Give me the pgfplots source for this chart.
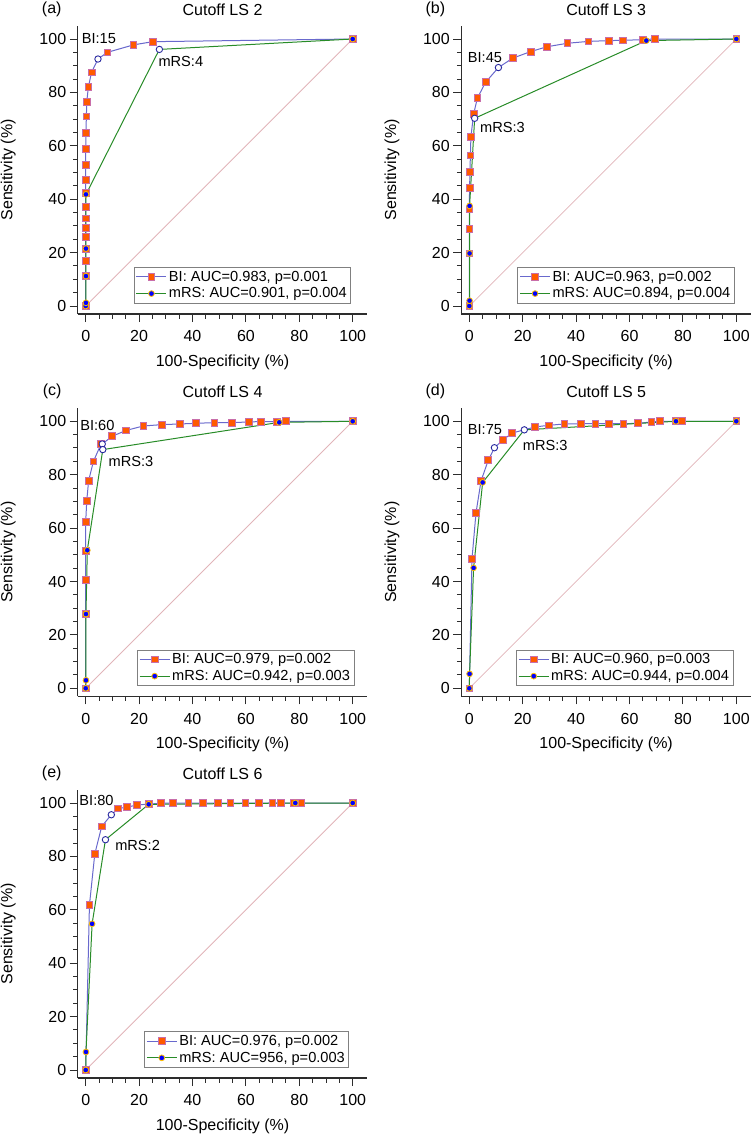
\documentclass[border=0pt]{standalone}
\usepackage{fontspec}
\setmainfont{Liberation Sans}
\usepackage{pgfplots}
\pgfplotsset{compat=1.18}
\definecolor{biorange}{RGB}{255,90,0}
\definecolor{biborder}{RGB}{200,110,170}
\definecolor{biline}{RGB}{105,105,205}
\definecolor{mrsblue}{RGB}{0,0,255}
\definecolor{mrsborder}{RGB}{255,190,0}
\definecolor{mrsline}{RGB}{40,140,40}
\definecolor{diagc}{RGB}{225,180,185}
\definecolor{cutborder}{RGB}{40,40,160}
\definecolor{axisgray}{RGB}{45,45,45}
\newcommand{\tickfont}{\fontsize{16}{16}\selectfont}
\newcommand{\labfont}{\fontsize{16}{18}\selectfont}
\newcommand{\legfont}{\fontsize{14.6}{16}\selectfont}
\pgfplotsset{
  bistyle/.style={color=biline, line width=1pt, mark=square*, mark size=3.4pt,
    mark options={fill=biorange, draw=biborder, line width=0.8pt, solid}},
  mrsstyle/.style={color=mrsline, line width=1pt, mark=*, mark size=2.9pt,
    mark options={fill=mrsblue, draw=mrsborder, line width=0.8pt, solid}},
  rocaxis/.style={
    anchor=south west,
    x=2.67pt, y=2.67pt, xmin=-3, xmax=105.5, ymin=-3, ymax=105,
    axis lines=left, axis line style={-, line width=1.3pt, color=axisgray},
    xtick={0,20,...,100}, ytick={0,20,...,100},
    xticklabels={0,20,40,60,80,100}, yticklabels={0,20,40,60,80,100},
    minor x tick num=3, minor y tick num=3,
    tick align=outside, major tick length=8pt, minor tick length=4.5pt,
    tick style={line width=1pt, color=axisgray},
    ticklabel style={font=\tickfont},
    xticklabel style={yshift=-5pt},
    xlabel={100-Specificity (\%)}, ylabel={Sensitivity (\%)},
    label style={font=\labfont},
    xlabel style={at={(axis description cs:0.5,-0.1675)}, anchor=center},
    ylabel style={at={(axis description cs:-0.2396,0.5)}, anchor=center},
    legend style={at={(axis cs:99.4,1)}, anchor=south east, draw=gray, line width=0.8pt,
      font=\legfont, inner xsep=2pt, inner ysep=1.5pt, row sep=1pt},
    legend cell align=left,
    legend image code/.code={\draw[mark repeat=2,mark phase=2] plot coordinates {(0pt,0pt) (15pt,0pt) (30pt,0pt)};},
    clip=false,
  },
  diagplot/.style={color=diagc, line width=0.8pt, forget plot},
  biln/.style={color=biline, line width=1pt, forget plot},
  mrsln/.style={color=mrsline, line width=1pt, forget plot},
  bimk/.style={only marks, mark=square*, mark size=3.4pt, mark options={fill=biorange, draw=biborder, line width=0.8pt}, forget plot},
  mrsmk/.style={only marks, mark=*, mark size=2.9pt, mark options={fill=mrsblue, draw=mrsborder, line width=0.8pt}, forget plot},
  cutmk/.style={only marks, mark=*, mark size=3.2pt, mark options={fill=white, draw=cutborder, line width=0.9pt}, forget plot},
}
\newcommand{\annot}[2]{\node[anchor=west, inner sep=0pt, font=\legfont] at (axis cs:#1) {#2};}
\newcommand{\plabel}[2]{\node[anchor=east, inner sep=0pt, font=\labfont, xshift=-16pt] at (axis description cs:0,1.058) {#1};
  \node[anchor=center, inner sep=0pt, font=\labfont] at (axis description cs:0.5,1.0544) {#2};}
\begin{document}
\begin{tikzpicture}
\useasboundingbox (0pt,0pt) rectangle (752pt,-1135pt);
% (a)
\begin{axis}[rocaxis, at={(77.69pt,-314.01pt)}]
\addplot[diagplot] coordinates {(0,0) (100,100)};
\addplot[biln] coordinates {(0,0)(0,11.4)(0,16.9)(0,21.5)(0,25.8)(0,29.2)(0,32.8)(0,37.2)(0,42.4)(0,47.1)(0,52.8)(0,58.9)(0.1,64.9)(0.25,71.0)(0.4,76.4)(1.0,82.1)(2.2,87.5)(4.6,92.5)(8.1,95.0)(17.9,97.8)(25.1,99.0)(100,100)};
\addplot[bimk] coordinates {(0,0)(0,11.4)(0,16.9)(0,21.5)(0,25.8)(0,29.2)(0,32.8)(0,37.2)(0,42.4)(0,47.1)(0,52.8)(0,58.9)(0.1,64.9)(0.25,71.0)(0.4,76.4)(1.0,82.1)(2.2,87.5)(8.1,95.0)(17.9,97.8)(25.1,99.0)(100,100)};
\addplot[mrsln] coordinates {(0,0)(0.1,1.2)(0.1,11.2)(0.1,21.5)(0.1,41.8)(27.6,96.1)(100,100)};
\addplot[mrsmk] coordinates {(0,0)(0.1,1.2)(0.1,11.2)(0.1,21.5)(0.1,41.8)(100,100)};
\addplot[cutmk] coordinates {(4.6,92.5)(27.6,96.1)};
\addlegendimage{bistyle}
\addlegendentry{BI: AUC=0.983, p=0.001}
\addlegendimage{mrsstyle}
\addlegendentry{mRS: AUC=0.901, p=0.004}
\annot{-1.5,100}{BI:15}
\annot{27.2,91.5}{mRS:4}
\plabel{(a)}{Cutoff LS 2}
\end{axis}
% (b)
\begin{axis}[rocaxis, at={(461.3pt,-314.01pt)}]
\addplot[diagplot] coordinates {(0,0) (100,100)};
\addplot[biln] coordinates {(0,0)(0,19.7)(0,28.8)(0,36.2)(0.1,44.3)(0.25,50.2)(0.4,56.4)(0.6,63.4)(1.6,71.8)(3.0,77.8)(6.1,83.8)(10.9,89.3)(16.2,92.8)(23.0,95.3)(29.1,97.1)(36.7,98.4)(44.6,99.1)(52.4,99.4)(57.4,99.5)(64.9,99.75)(69.4,100)(100,100)};
\addplot[bimk] coordinates {(0,0)(0,19.7)(0,28.8)(0,36.2)(0.1,44.3)(0.25,50.2)(0.4,56.4)(0.6,63.4)(1.6,71.8)(3.0,77.8)(6.1,83.8)(16.2,92.8)(23.0,95.3)(29.1,97.1)(36.7,98.4)(44.6,99.1)(52.4,99.4)(57.4,99.5)(64.9,99.75)(69.4,100)(100,100)};
\addplot[mrsln] coordinates {(0,0)(0.1,2.0)(0.1,19.7)(0.1,37.5)(2.0,70.3)(66.3,99.4)(100,100)};
\addplot[mrsmk] coordinates {(0,0)(0.1,2.0)(0.1,19.7)(0.1,37.5)(66.3,99.4)(100,100)};
\addplot[cutmk] coordinates {(10.9,89.3)(2.0,70.3)};
\addlegendimage{bistyle}
\addlegendentry{BI: AUC=0.963, p=0.002}
\addlegendimage{mrsstyle}
\addlegendentry{mRS: AUC=0.894, p=0.004}
\annot{-0.6,93.1}{BI:45}
\annot{4.0,66.7}{mRS:3}
\plabel{(b)}{Cutoff LS 3}
\end{axis}
% (c)
\begin{axis}[rocaxis, at={(77.69pt,-696.3pt)}, legend style={at={(axis cs:100.6,0.9)}}]
\addplot[diagplot] coordinates {(0,0) (100,100)};
\addplot[biln] coordinates {(0,0)(0,27.9)(0,40.6)(0,51.6)(0,62.3)(0.4,70.3)(1.1,77.8)(2.9,85.0)(5.7,91.4)(6.2,91.5)(9.9,94.4)(15.2,96.6)(21.6,98.25)(28.5,98.75)(35.3,99.0)(41.4,99.25)(48.2,99.5)(54.9,99.5)(61.0,99.75)(65.5,99.9)(71.5,99.9)(74.9,100)(100,100)};
\addplot[bimk] coordinates {(0,0)(0,27.9)(0,40.6)(0,51.6)(0,62.3)(0.4,70.3)(1.1,77.8)(2.9,85.0)(5.7,91.4)(9.9,94.4)(15.2,96.6)(21.6,98.25)(28.5,98.75)(35.3,99.0)(41.4,99.25)(48.2,99.5)(54.9,99.5)(61.0,99.75)(65.5,99.9)(71.5,99.9)(74.9,100)(100,100)};
\addplot[mrsln] coordinates {(0,0)(0.1,3.0)(0.1,27.8)(0.6,51.7)(6.4,89.4)(72.5,99.6)(100,100)};
\addplot[mrsmk] coordinates {(0,0)(0.1,3.0)(0.1,27.8)(0.6,51.7)(72.5,99.6)(100,100)};
\addplot[cutmk] coordinates {(6.2,91.5)(6.4,89.4)};
\addlegendimage{bistyle}
\addlegendentry{BI: AUC=0.979, p=0.002}
\addlegendimage{mrsstyle}
\addlegendentry{mRS: AUC=0.942, p=0.003}
\annot{-2.1,98.5}{BI:60}
\annot{8.5,84.8}{mRS:3}
\plabel{(c)}{Cutoff LS 4}
\end{axis}
% (d)
\begin{axis}[rocaxis, at={(461.3pt,-696.3pt)}, legend style={at={(axis cs:98.9,0.9)}}]
\addplot[diagplot] coordinates {(0,0) (100,100)};
\addplot[biln] coordinates {(0,0)(1.0,48.4)(2.5,65.7)(4.4,77.7)(7.1,85.4)(9.4,90.1)(12.5,92.9)(16.0,95.6)(24.7,97.9)(29.8,98.5)(35.6,99.0)(41.7,99.1)(47.2,99.1)(52.2,99.1)(57.7,99.1)(63.2,99.25)(68.2,99.75)(71.5,100)(77.2,100)(79.7,100)(100,100)};
\addplot[bimk] coordinates {(0,0)(1.0,48.4)(2.5,65.7)(4.4,77.7)(7.1,85.4)(12.5,92.9)(16.0,95.6)(24.7,97.9)(29.8,98.5)(35.6,99.0)(41.7,99.1)(47.2,99.1)(52.2,99.1)(57.7,99.1)(63.2,99.25)(68.2,99.75)(71.5,100)(77.2,100)(79.7,100)(100,100)};
\addplot[mrsln] coordinates {(0,0)(0.1,5.4)(1.6,45.1)(5.0,77.1)(20.6,96.8)(77.4,100)(100,100)};
\addplot[mrsmk] coordinates {(0,0)(0.1,5.4)(1.6,45.1)(5.0,77.1)(77.4,100)(100,100)};
\addplot[cutmk] coordinates {(9.4,90.1)(20.6,96.8)};
\addlegendimage{bistyle}
\addlegendentry{BI: AUC=0.960, p=0.003}
\addlegendimage{mrsstyle}
\addlegendentry{mRS: AUC=0.944, p=0.004}
\annot{-0.6,97.0}{BI:75}
\annot{20.0,90.9}{mRS:3}
\plabel{(d)}{Cutoff LS 5}
\end{axis}
% (e)
\begin{axis}[rocaxis, at={(77.69pt,-1078.0pt)}, legend style={at={(axis cs:98.7,0.9)}}]
\addplot[diagplot] coordinates {(0,0) (100,100)};
\addplot[biln] coordinates {(0,0)(1.4,61.75)(3.4,80.9)(6.0,91.25)(9.6,95.6)(12.2,98.0)(15.4,98.4)(19.1,99.25)(23.8,99.6)(28.1,99.9)(32.8,100)(38.5,100)(43.9,100)(49.4,100)(54.2,100)(59.8,100)(64.9,100)(69.9,100)(73.0,100)(78.0,100)(80.8,100)(100,100)};
\addplot[bimk] coordinates {(0,0)(1.4,61.75)(3.4,80.9)(6.0,91.25)(12.2,98.0)(15.4,98.4)(19.1,99.25)(23.8,99.6)(28.1,99.9)(32.8,100)(38.5,100)(43.9,100)(49.4,100)(54.2,100)(59.8,100)(64.9,100)(69.9,100)(73.0,100)(78.0,100)(80.8,100)(100,100)};
\addplot[mrsln] coordinates {(0,0)(0.1,6.75)(2.4,54.75)(7.4,86.25)(23.6,99.5)(78.5,100)(100,100)};
\addplot[mrsmk] coordinates {(0,0)(0.1,6.75)(2.4,54.75)(23.6,99.5)(78.5,100)(100,100)};
\addplot[cutmk] coordinates {(9.6,95.6)(7.4,86.25)};
\addlegendimage{bistyle}
\addlegendentry{BI: AUC=0.976, p=0.002}
\addlegendimage{mrsstyle}
\addlegendentry{mRS: AUC=956, p=0.003}
\annot{-2.4,101}{BI:80}
\annot{11.0,84.1}{mRS:2}
\plabel{(e)}{Cutoff LS 6}
\end{axis}
\end{tikzpicture}
\end{document}
